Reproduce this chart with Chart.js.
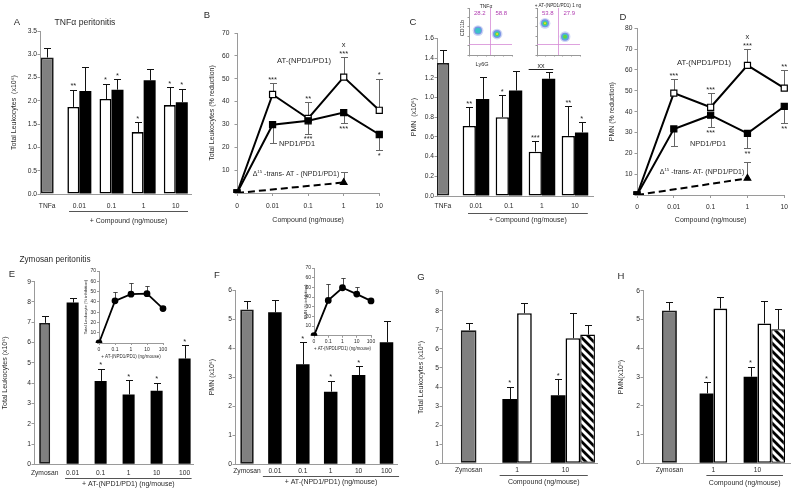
<!DOCTYPE html>
<html><head><meta charset="utf-8">
<script src="https://cdn.jsdelivr.net/npm/chart.js@4.4.1/dist/chart.umd.min.js"></script>
<style>
html,body{margin:0;padding:0;background:#fff;}
body{position:relative;width:800px;height:493px;overflow:hidden;font-family:"Liberation Sans",Arial,sans-serif;}
canvas{position:absolute;}
.lbl{position:absolute;transform:translate(-50%,-50%);white-space:nowrap;line-height:1;color:#2a2a2a;filter:grayscale(100%);}
.lbl sup{font-size:0.62em;vertical-align:0.5em;line-height:0;}
</style></head><body>
<script>
// ===================== DATA =====================
// Panel A – TNFα peritonitis, total leukocytes (x10^6)
const tnfLabels = ['TNFa', '0.01', '0.1', '1', '10'];
const yTicksA = [0, 0.5, 1, 1.5, 2, 2.5, 3, 3.5];
const leukTnf = [2.93];
const leukTnfErr = [0.21];
const leukOpenA = [1.87, 2.04, 1.33, 1.91];
const leukOpenAErr = [0.37, 0.33, 0.21, 0.38];
const leukOpenASig = ['**', '*', '*', '*'];
const leukFilledA = [2.21, 2.24, 2.44, 1.97];
const leukFilledAErr = [0.51, 0.22, 0.25, 0.29];
const leukFilledASig = ['', '*', '', '*'];

// Panel B – total leukocytes, % reduction
const redLabels = ['0', '0.01', '0.1', '1', '10'];
const yTicksB = [0, 10, 20, 30, 40, 50, 60, 70];
const leukRedAT = [0, 43.1, 32.6, 50.7, 36.2];
const leukRedATErr = [null, 4.9, 7.1, 8.7, 13.8];
const leukRedATSig = ['', '***', '**', 'x\n***', '*'];
const leukRedNPD1 = [0, 29.9, 31.6, 35.2, 25.6];
const leukRedNPD1Err = [null, 8.1, 5.6, 4.6, 6.9];
const leukRedNPD1Sig = ['', '', '***', '***', '*'];
const leukRedTrans = [0, null, null, 4.6, null];
const leukRedTransErr = [null, null, null, 4.6, null];

// Panel C – PMN (x10^6)
const yTicksC = [0, 0.2, 0.4, 0.6, 0.8, 1.0, 1.2, 1.4, 1.6];
const pmnTnf = [1.35];
const pmnTnfErr = [0.13];
const pmnOpenC = [0.71, 0.80, 0.45, 0.61];
const pmnOpenCErr = [0.19, 0.22, 0.11, 0.30];
const pmnOpenCSig = ['**', '*', '***', '**'];
const pmnFilledC = [0.985, 1.07, 1.19, 0.645];
const pmnFilledCErr = [0.22, 0.195, 0.065, 0.105];
const pmnFilledCSig = ['', '', '', '*'];
// flow cytometry insets (Ly6G, CD11b), log-decade units 0..5
const flowGate = [2.4, 1.22];
const flowCtlClusters = [[1.05, 2.6], [3.26, 2.23]];
const flowCtlDensity = [2, 4];
const flowCtlPct = ['28.2', '58.8'];
const flowTrtClusters = [[0.93, 3.37], [3.26, 1.95]];
const flowTrtDensity = [4, 3];
const flowTrtPct = ['53.8', '27.9'];

// Panel D – PMN % reduction
const yTicksD = [0, 10, 20, 30, 40, 50, 60, 70, 80];
const pmnRedAT = [0, 48.9, 42.1, 62.2, 51.3];
const pmnRedATErr = [null, 6.7, 6.8, 7.8, 8.5];
const pmnRedATSig = ['', '***', '***', 'x\n***', '**'];
const pmnRedNPD1 = [0, 31.7, 38.3, 29.6, 42.5];
const pmnRedNPD1Err = [null, 8.1, 5.8, 7.2, 8.0];
const pmnRedNPD1Sig = ['', '', '***', '**', '**'];
const pmnRedTrans = [0, null, null, 8.0, null];
const pmnRedTransErr = [null, null, null, 8.0, null];

// Panel E – Zymosan, total leukocytes (x10^6)
const zymLabels = ['Zymosan', '0.01', '0.1', '1', '10', '100'];
const yTicksE = [0, 1, 2, 3, 4, 5, 6, 7, 8, 9];
const zymLeukCtrl = [6.97];
const zymLeukCtrlErr = [0.33];
const zymLeukAT = [7.97, 4.11, 3.44, 3.62, 5.21];
const zymLeukATErr = [0.23, 0.61, 0.71, 0.41, 0.66];
const zymLeukATSig = ['', '*', '*', '*', '*'];
const insetLabels = ['0', '0.1', '1', '10', '100'];
const yTicksInset = [0, 10, 20, 30, 40, 50, 60, 70];
const zymLeukInhib = [0, 41, 47.5, 48, 33.5];
const zymLeukInhibErr = [null, 9, 10.5, 7, 2.5];

// Panel F – Zymosan, PMN (x10^6)
const yTicksF = [0, 1, 2, 3, 4, 5, 6];
const zymPmnCtrl = [5.33];
const zymPmnCtrlErr = [0.28];
const zymPmnAT = [5.23, 3.44, 2.5, 3.07, 4.2];
const zymPmnATErr = [0.42, 0.76, 0.38, 0.32, 0.74];
const zymPmnATSig = ['', '*', '*', '*', ''];
const zymPmnInhib = [0, 36.5, 49.6, 43, 36];
const zymPmnInhibErr = [null, 16.5, 10.5, 7.3, 1.8];

// Panel G – compound comparison, total leukocytes
const cmpLabels = ['Zymosan', '1', '10'];
const gLeukCtrl = [6.98];
const gLeukCtrlErr = [0.36];
const gLeukFilled = [3.37, 3.57];
const gLeukFilledErr = [0.65, 0.85];
const gLeukFilledSig = ['*', '*'];
const gLeukOpen = [7.87, 6.56];
const gLeukOpenErr = [0.56, 1.31];
const gLeukHatched = [null, 6.75];
const gLeukHatchedErr = [null, 0.51];

// Panel H – compound comparison, PMN
const hPmnCtrl = [5.31];
const hPmnCtrlErr = [0.29];
const hPmnFilled = [2.43, 3.01];
const hPmnFilledErr = [0.39, 0.35];
const hPmnFilledSig = ['*', '*'];
const hPmnOpen = [5.38, 4.86];
const hPmnOpenErr = [0.41, 0.78];
const hPmnHatched = [null, 4.66];
const hPmnHatchedErr = [null, 0.69];

// ===================== STYLE / HELPERS =====================
const F = '"Liberation Sans", Arial, sans-serif';
const TXT = '#2a2a2a', AX = '#9a9a9a';

const align = (n, start, arr) => Array.from({length: n}, (_, i) => {
  const k = i - start;
  return (k >= 0 && k < arr.length && arr[k] !== undefined) ? arr[k] : null;
});
const yv = d => (d !== null && typeof d === 'object') ? d.y : d;

function makeHatch() {
  const c = document.createElement('canvas'); c.width = 8; c.height = 8;
  const g = c.getContext('2d');
  g.fillStyle = '#fff'; g.fillRect(0, 0, 8, 8);
  g.strokeStyle = '#000'; g.lineWidth = 2.8; g.lineCap = 'square';
  g.beginPath();
  g.moveTo(-4, -4); g.lineTo(12, 12);
  g.moveTo(-4, 4); g.lineTo(4, 12);
  g.moveTo(4, -4); g.lineTo(12, 4);
  g.stroke();
  return g.createPattern(c, 'repeat');
}

const GRAY = {backgroundColor: '#808080', borderColor: '#1a1a1a', borderWidth: 1.8};
const OPEN = {backgroundColor: '#ffffff', borderColor: '#000', borderWidth: 1.6};
const FILLED = {backgroundColor: '#000', borderColor: '#000', borderWidth: 0};
const HATCH = {backgroundColor: makeHatch(), borderColor: '#000', borderWidth: 1.3};

function bar(vals, errs, sigs, style, extra) {
  return Object.assign({
    data: vals.map((v, i) => ({x: i, y: v})), err: errs, sig: sigs, errDir: 'up',
    borderSkipped: false, barPercentage: 1, capW: 3.5
  }, style, extra);
}

const LINE_BASE = {borderColor: '#000', borderWidth: 2, tension: 0, pointBorderColor: '#000',
  pointBorderWidth: 1.2, errColor: '#666', capW: 3.5};
const SQ_OPEN = Object.assign({}, LINE_BASE, {pointStyle: 'rect', pointRadius: 4.3, pointBackgroundColor: '#fff'});
const SQ_FILLED = Object.assign({}, LINE_BASE, {pointStyle: 'rect', pointRadius: 4.3, pointBackgroundColor: '#000'});
const TRANS = Object.assign({}, LINE_BASE, {borderDash: [7, 4], pointStyle: 'triangle',
  pointRadius: c => (c.dataIndex > 0 && c.raw != null) ? 3.8 : 0, pointBackgroundColor: '#000', spanGaps: true});
const DOT = {borderColor: '#000', borderWidth: 1.8, tension: 0, pointStyle: 'circle', pointRadius: 2.5,
  pointBackgroundColor: '#000', pointBorderColor: '#000', errColor: '#222', capW: 2.2, errWidth: 0.8};

function line(vals, errs, sigs, dir, style) {
  return Object.assign({data: vals, err: errs, sig: sigs, errDir: dir}, style);
}

function yAxis(ticks, fmt, title, o = {}) {
  const fs = o.fs || 6.7, tfs = o.tfs || 7;
  return {
    type: 'linear', min: ticks[0], max: ticks[ticks.length - 1],
    afterBuildTicks: s => { s.ticks = ticks.map(v => ({value: v})); },
    ticks: {font: {family: F, size: fs}, color: TXT, padding: o.pad ?? 0.5, callback: fmt},
    grid: {display: true, drawOnChartArea: false, drawTicks: true, tickLength: o.tl ?? 2.5, color: AX},
    border: {display: true, color: AX, width: 1},
    title: {display: !!title, text: title, font: {family: F, size: tfs}, color: TXT, padding: 0}
  };
}
function xBars(labels, min, max, pad, fs = 6.7) {
  return {
    type: 'linear', min, max, offset: false,
    afterBuildTicks: s => { s.ticks = labels.map((_, i) => ({value: i})); },
    ticks: {font: {family: F, size: fs}, color: TXT, padding: pad, maxRotation: 0, autoSkip: false,
      callback: v => labels[v] ?? ''},
    grid: {display: false, drawTicks: false, offset: false},
    border: {display: true, color: AX, width: 1}
  };
}
function xCat(pad, title, o = {}) {
  const fs = o.fs || 6.7, tfs = o.tfs || 7;
  return {
    type: 'category', offset: false,
    ticks: {font: {family: F, size: fs}, color: TXT, padding: pad, maxRotation: 0, autoSkip: false},
    grid: {display: true, drawOnChartArea: false, drawTicks: true, tickLength: o.tl ?? 3, color: AX, offset: false},
    border: {display: true, color: AX, width: 1},
    title: {display: true, text: title, font: {family: F, size: tfs}, color: TXT, padding: 0}
  };
}
const hideZero = v => v === 0 ? '' : v;

// ---------- plugins ----------
function drawErr(chart) {
  const ctx = chart.ctx, ys = chart.scales.y;
  chart.data.datasets.forEach((ds, di) => {
    if (!ds.err) return;
    const meta = chart.getDatasetMeta(di);
    ctx.save();
    ctx.strokeStyle = ds.errColor || '#111'; ctx.lineWidth = ds.errWidth || 1;
    ds.err.forEach((e, i) => {
      const v = yv(ds.data[i]), el = meta.data[i];
      if (e == null || v == null || !el) return;
      const x = Math.round(el.x) + 0.5;
      const y0 = ys.getPixelForValue(v);
      const y1 = Math.round(ys.getPixelForValue(ds.errDir === 'down' ? v - e : v + e)) + 0.5;
      const cw = ds.capW || 3;
      ctx.beginPath();
      ctx.moveTo(x, y0); ctx.lineTo(x, y1);
      ctx.moveTo(x - cw, y1); ctx.lineTo(x + cw, y1);
      ctx.stroke();
    });
    ctx.restore();
  });
}
function drawSigs(chart) {
  const ctx = chart.ctx, ys = chart.scales.y;
  chart.data.datasets.forEach((ds, di) => {
    if (!ds.sig) return;
    const meta = chart.getDatasetMeta(di);
    const down = ds.errDir === 'down';
    ds.sig.forEach((s, i) => {
      if (!s) return;
      const v = yv(ds.data[i]), el = meta.data[i];
      const e = ds.err && ds.err[i] != null ? ds.err[i] : 0;
      if (v == null || !el) return;
      const end = ys.getPixelForValue(down ? v - e : v + e);
      const lines = s.split('\n'), n = lines.length, fs = ds.sigFs || 7.5;
      ctx.save();
      ctx.fillStyle = TXT; ctx.font = `${fs}px ${F}`; ctx.textAlign = 'center'; ctx.textBaseline = 'alphabetic';
      lines.forEach((ln, k) => {
        const cy = down ? end + 3.5 + k * 7 : end - 5.5 - (n - 1 - k) * 7;
        ctx.fillText(ln, el.x, cy + (ln.includes('*') ? 0.56 : 0.27) * fs);
      });
      ctx.restore();
    });
  });
}
const errPlugin = {
  id: 'errbars',
  beforeDatasetsDraw(chart) { if (chart.config.type === 'line') drawErr(chart); },
  afterDatasetsDraw(chart) { if (chart.config.type !== 'line') drawErr(chart); drawSigs(chart); }
};
const decoPlugin = {
  id: 'deco',
  afterDraw(chart) {
    const o = chart.canvas.deco || {};
    const ctx = chart.ctx, xs = chart.scales.x, ys = chart.scales.y, ca = chart.chartArea;
    if (o.group) {
      const g = o.group;
      const x1 = xs.getPixelForValue(g.from + g.fromOff), x2 = xs.getPixelForValue(g.to + g.toOff);
      const ly = Math.round(ca.bottom + g.lineDy) + 0.5;
      ctx.save();
      ctx.strokeStyle = '#555'; ctx.lineWidth = 1;
      ctx.beginPath(); ctx.moveTo(x1, ly); ctx.lineTo(x2, ly); ctx.stroke();
      ctx.fillStyle = TXT; ctx.font = `${g.fs || 7}px ${F}`; ctx.textAlign = 'center'; ctx.textBaseline = 'middle';
      ctx.fillText(g.text, (x1 + x2) / 2, ca.bottom + g.textDy);
      ctx.restore();
    }
    if (o.bracket) {
      const b = o.bracket;
      const dsA = chart.data.datasets[b.ds[0]], dsB = chart.data.datasets[b.ds[1]];
      const eA = chart.getDatasetMeta(b.ds[0]).data[b.i], eB = chart.getDatasetMeta(b.ds[1]).data[b.i];
      const topA = ys.getPixelForValue(yv(dsA.data[b.i]) + dsA.err[b.i]);
      const topB = ys.getPixelForValue(yv(dsB.data[b.i]) + dsB.err[b.i]);
      const y = Math.round(Math.min(topA, topB) - b.dy) + 0.5;
      const x1 = eA.x - eA.width / 2, x2 = eB.x + eB.width / 2 - 2;
      ctx.save();
      ctx.strokeStyle = '#222'; ctx.lineWidth = 1;
      ctx.beginPath(); ctx.moveTo(x1, y); ctx.lineTo(x2, y); ctx.stroke();
      ctx.fillStyle = TXT; ctx.font = `7px ${F}`; ctx.textAlign = 'center'; ctx.textBaseline = 'alphabetic';
      ctx.fillText(b.text, (x1 + x2) / 2, y - 3.3 + 1.9);
      ctx.restore();
    }
    if (o.gate) {
      const gx = Math.round(xs.getPixelForValue(o.gate.x)) + 0.5, gy = Math.round(ys.getPixelForValue(o.gate.y)) + 0.5;
      ctx.save();
      ctx.strokeStyle = '#d58ad5'; ctx.lineWidth = 0.8;
      ctx.beginPath(); ctx.moveTo(gx, ca.top); ctx.lineTo(gx, ca.bottom);
      ctx.moveTo(ca.left, gy); ctx.lineTo(ca.right, gy); ctx.stroke();
      ctx.fillStyle = '#b03cb0'; ctx.font = `6px ${F}`; ctx.textAlign = 'center'; ctx.textBaseline = 'middle';
      ctx.fillText(o.gate.pct[0], (ca.left + gx) / 2, ca.top + 5);
      ctx.fillText(o.gate.pct[1], (gx + ca.right) / 2, ca.top + 5);
      ctx.restore();
    }
  }
};
Chart.register(errPlugin, decoPlugin);

function build(o, config, deco) {
  const left = Math.floor(o.l - o.yw), top = Math.floor(o.t - o.pt);
  const W = Math.ceil(o.r + o.pr) - left, H = Math.ceil(o.b + o.xh) - top;
  const yw = o.l - left, pt = o.t - top, pr = left + W - o.r, xh = top + H - o.b;
  const cv = document.createElement('canvas');
  cv.width = W; cv.height = H;
  cv.style.left = left + 'px'; cv.style.top = top + 'px';
  cv.style.width = W + 'px'; cv.style.height = H + 'px';
  cv.deco = deco || {};
  document.body.appendChild(cv);
  const opt = config.options;
  opt.responsive = false; opt.animation = false; opt.devicePixelRatio = 1; opt.events = [];
  opt.layout = {autoPadding: false, padding: {left: 0, top: pt, right: pr, bottom: 0}};
  opt.plugins = {legend: {display: false}, tooltip: {enabled: false}, title: {display: false}};
  opt.scales.x.afterFit = s => { s.height = xh; };
  opt.scales.y.afterFit = s => { s.width = yw; };
  return new Chart(cv, config);
}

// ===================== PANELS =====================
// A
(() => {
  const n = tnfLabels.length, cp = 0.746;
  build({l: 40, t: 31, r: 191, b: 194, yw: 29.2, pt: 8, pr: 4, xh: 36}, {
    type: 'bar',
    data: {datasets: [
      bar(align(n, 0, leukTnf), align(n, 0, leukTnfErr), null, GRAY, {categoryPercentage: cp, skipNull: true, maxBarThickness: 13}),
      bar(align(n, 1, leukOpenA), align(n, 1, leukOpenAErr), align(n, 1, leukOpenASig), OPEN, {categoryPercentage: cp, skipNull: true}),
      bar(align(n, 1, leukFilledA), align(n, 1, leukFilledAErr), align(n, 1, leukFilledASig), FILLED, {categoryPercentage: cp, skipNull: true})
    ]},
    options: {scales: {
      x: xBars(tnfLabels, -0.224, 4.473, 8.0),
      y: yAxis(yTicksA, v => v.toFixed(1), 'Total Leukocytes  (x10⁶)')
    }}
  }, {group: {from: 1, to: 4, fromOff: -0.32, toOff: 0.38, lineDy: 17, textDy: 27, text: '+ Compound (ng/mouse)'}});
})();

// B
build({l: 237, t: 30, r: 382, b: 193, yw: 28.2, pt: 6, pr: 7, xh: 30.2}, {
  type: 'line',
  data: {labels: redLabels, datasets: [
    line(leukRedNPD1, leukRedNPD1Err, leukRedNPD1Sig, 'down', SQ_FILLED),
    line(leukRedAT, leukRedATErr, leukRedATSig, 'up', SQ_OPEN),
    line(leukRedTrans, leukRedTransErr, null, 'up', TRANS)
  ]},
  options: {scales: {
    x: xCat(6.0, 'Compound (ng/mouse)'),
    y: yAxis(yTicksB, hideZero, 'Total Leukocytes (% reduction)', {pad: 5})
  }}
});

// C
(() => {
  const n = tnfLabels.length, cp = 0.806;
  build({l: 437, t: 38.3, r: 593, b: 196, yw: 26.2, pt: 6, pr: 4, xh: 30}, {
    type: 'bar',
    data: {datasets: [
      bar(align(n, 0, pmnTnf), align(n, 0, pmnTnfErr), null, GRAY, {categoryPercentage: cp, skipNull: true, maxBarThickness: 12.7}),
      bar(align(n, 1, pmnOpenC), align(n, 1, pmnOpenCErr), align(n, 1, pmnOpenCSig), OPEN, {categoryPercentage: cp, skipNull: true}),
      bar(align(n, 1, pmnFilledC), align(n, 1, pmnFilledCErr), align(n, 1, pmnFilledCSig), FILLED, {categoryPercentage: cp, skipNull: true})
    ]},
    options: {scales: {
      x: xBars(tnfLabels, -0.18, 4.547, 5.7),
      y: yAxis(yTicksC, v => v.toFixed(1), 'PMN  (x10⁶)')
    }}
  }, {
    group: {from: 1, to: 4, fromOff: -0.24, toOff: 0.39, lineDy: 17, textDy: 24, text: '+ Compound (ng/mouse)'},
    bracket: {i: 3, ds: [1, 2], text: 'xx', dy: 3}
  });
})();

// C – flow cytometry insets
const FLOW_COLORS = ['#cdd7f4', '#7a92e6', '#3cc3c8', '#66d23c', '#ece32a'];
const FLOW_R = [5.4, 4.0, 2.9, 1.9, 1.0];
function flow(box, clusters, density, pct) {
  const layers = FLOW_COLORS.map((c, k) => ({
    data: clusters.filter((_, j) => density[j] >= k).map(p => ({x: p[0], y: p[1], r: FLOW_R[k]})),
    backgroundColor: c, borderWidth: 0
  })).reverse();
  const ax = {type: 'linear', min: 0, max: 5, ticks: {display: false, stepSize: 1},
    grid: {display: true, drawOnChartArea: false, drawTicks: true, tickLength: 1.5, color: '#999'},
    border: {display: true, color: '#999', width: 1}};
  build(Object.assign({yw: 2, pt: 8, pr: 2, xh: 4}, box), {
    type: 'bubble',
    data: {datasets: layers},
    options: {scales: {x: Object.assign({}, ax), y: Object.assign({}, ax)}}
  }, {gate: {x: flowGate[0], y: flowGate[1], pct}});
}
flow({l: 469, t: 8, r: 512, b: 55}, flowCtlClusters, flowCtlDensity, flowCtlPct);
flow({l: 537, t: 8, r: 580, b: 55}, flowTrtClusters, flowTrtDensity, flowTrtPct);

// D
build({l: 637, t: 28.3, r: 785, b: 195, yw: 28.2, pt: 6, pr: 8, xh: 28.2}, {
  type: 'line',
  data: {labels: redLabels, datasets: [
    line(pmnRedNPD1, pmnRedNPD1Err, pmnRedNPD1Sig, 'down', SQ_FILLED),
    line(pmnRedAT, pmnRedATErr, pmnRedATSig, 'up', SQ_OPEN),
    line(pmnRedTrans, pmnRedTransErr, null, 'up', TRANS)
  ]},
  options: {scales: {
    x: xCat(5.0, 'Compound (ng/mouse)'),
    y: yAxis(yTicksD, hideZero, 'PMN (% reduction)', {pad: 2})
  }}
});

// E
(() => {
  const n = zymLabels.length, cp = 0.43;
  build({l: 34, t: 281.7, r: 193, b: 464.3, yw: 32.2, pt: 6, pr: 4, xh: 28}, {
    type: 'bar',
    data: {datasets: [
      bar(align(n, 0, zymLeukCtrl), align(n, 0, zymLeukCtrlErr), null, GRAY, {categoryPercentage: cp, skipNull: true, maxBarThickness: 11}),
      bar(align(n, 1, zymLeukAT), align(n, 1, zymLeukATErr), align(n, 1, zymLeukATSig), FILLED, {categoryPercentage: cp, skipNull: true})
    ]},
    options: {scales: {
      x: xBars(zymLabels, -0.38, 5.3, 4.4),
      y: yAxis(yTicksE, v => v, 'Total Leukocytes (x10⁶)')
    }}
  }, {group: {from: 1, to: 5, fromOff: -0.27, toOff: 0.25, lineDy: 13.7, textDy: 20, text: '+ AT-(NPD1/PD1) (ng/mouse)'}});
})();
// E inset
build({l: 99, t: 271, r: 163, b: 343, yw: 15.7, pt: 4, pr: 6, xh: 15.7}, {
  type: 'line',
  data: {labels: insetLabels, datasets: [line(zymLeukInhib, zymLeukInhibErr, null, 'up', DOT)]},
  options: {scales: {
    x: xCat(1.3, '+ AT-(NPD1/PD1) (ng/mouse)', {fs: 5, tfs: 4.5, tl: 2}),
    y: yAxis(yTicksInset, hideZero, 'Total Leukocyte (% inhibition)', {fs: 5, tfs: 4.2, tl: 2, pad: 1})
  }}
});

// F
(() => {
  const n = zymLabels.length, cp = 0.484;
  build({l: 235, t: 290, r: 397, b: 464.3, yw: 26.2, pt: 6, pr: 4, xh: 26}, {
    type: 'bar',
    data: {datasets: [
      bar(align(n, 0, zymPmnCtrl), align(n, 0, zymPmnCtrlErr), null, GRAY, {categoryPercentage: cp, skipNull: true, maxBarThickness: 14}),
      bar(align(n, 1, zymPmnAT), align(n, 1, zymPmnATErr), align(n, 1, zymPmnATSig), FILLED, {categoryPercentage: cp, skipNull: true})
    ]},
    options: {scales: {
      x: xBars(zymLabels, -0.43, 5.376, 2.7),
      y: yAxis(yTicksF, v => v, 'PMN (x10⁶)')
    }}
  }, {group: {from: 1, to: 5, fromOff: -0.43, toOff: 0.45, lineDy: 12, textDy: 18, text: '+ AT-(NPD1/PD1) (ng/mouse)'}});
})();
// F inset
build({l: 314, t: 268, r: 371, b: 335.7, yw: 10.7, pt: 4, pr: 6, xh: 14.7}, {
  type: 'line',
  data: {labels: insetLabels, datasets: [line(zymPmnInhib, zymPmnInhibErr, null, 'up', DOT)]},
  options: {scales: {
    x: xCat(1, '+ AT-(NPD1/PD1) (ng/mouse)', {fs: 5, tfs: 4.5, tl: 2}),
    y: yAxis(yTicksInset, hideZero, 'PMN (% inhibition)', {fs: 5, tfs: 4.2, tl: 2, pad: 1})
  }}
});

// G
(() => {
  const n = cmpLabels.length, cp = 1.215;
  build({l: 442, t: 291.7, r: 597, b: 463.3, yw: 24.5, pt: 6, pr: 3, xh: 26}, {
    type: 'bar',
    data: {datasets: [
      bar(align(n, 0, gLeukCtrl), align(n, 0, gLeukCtrlErr), null, GRAY, {categoryPercentage: cp, skipNull: true, maxBarThickness: 15.7}),
      bar(align(n, 1, gLeukFilled), align(n, 1, gLeukFilledErr), align(n, 1, gLeukFilledSig), FILLED, {categoryPercentage: cp}),
      bar(align(n, 1, gLeukOpen), align(n, 1, gLeukOpenErr), null, OPEN, {categoryPercentage: cp}),
      bar(align(n, 1, gLeukHatched), align(n, 1, gLeukHatchedErr), null, HATCH, {categoryPercentage: cp})
    ]},
    options: {scales: {
      x: xBars(cmpLabels, -0.55, 2.65, 2.7),
      y: yAxis(yTicksE, v => v, 'Total Leukocytes (x10⁶)')
    }}
  }, {group: {from: 1, to: 2, fromOff: -0.36, toOff: 0.46, lineDy: 12, textDy: 18.4, text: 'Compound (ng/mouse)'}});
})();

// H
(() => {
  const n = cmpLabels.length, cp = 1.255;
  build({l: 643, t: 290.7, r: 790, b: 463.3, yw: 25.5, pt: 6, pr: 6, xh: 27}, {
    type: 'bar',
    data: {datasets: [
      bar(align(n, 0, hPmnCtrl), align(n, 0, hPmnCtrlErr), null, GRAY, {categoryPercentage: cp, skipNull: true, maxBarThickness: 15}),
      bar(align(n, 1, hPmnFilled), align(n, 1, hPmnFilledErr), align(n, 1, hPmnFilledSig), FILLED, {categoryPercentage: cp}),
      bar(align(n, 1, hPmnOpen), align(n, 1, hPmnOpenErr), null, OPEN, {categoryPercentage: cp}),
      bar(align(n, 1, hPmnHatched), align(n, 1, hPmnHatchedErr), null, HATCH, {categoryPercentage: cp})
    ]},
    options: {scales: {
      x: xBars(cmpLabels, -0.6, 2.74, 2.7),
      y: yAxis(yTicksF, v => v, 'PMN(x10⁶)')
    }}
  }, {group: {from: 1, to: 2, fromOff: -0.16, toOff: 0.58, lineDy: 12, textDy: 19.4, text: 'Compound (ng/mouse)'}});
})();

// ===================== FREE TEXT =====================
function label(html, x, y, fs, extra) {
  const d = document.createElement('div');
  d.className = 'lbl'; d.innerHTML = html;
  d.style.left = x + 'px'; d.style.top = y + 'px'; d.style.fontSize = fs + 'px';
  if (extra) d.style.cssText += extra;
  document.body.appendChild(d);
}
label('A', 17, 22, 9.5);
label('TNFα peritonitis', 85, 22, 8.6);
label('B', 207, 15, 9.5);
label('C', 413, 22, 9.5);
label('D', 623, 17, 9.5);
label('Zymosan peritonitis', 55, 260, 8.2);
label('E', 12, 274, 9.5);
label('F', 217, 275, 9.5);
label('G', 421, 277, 9.5);
label('H', 621, 276, 9.5);
label('AT-(NPD1/PD1)', 304, 61, 7.7);
label('NPD1/PD1', 297, 144, 7.4);
label('Δ<sup>15</sup> -trans- AT - (NPD1/PD1)', 296, 173, 7);
label('AT-(NPD1/PD1)', 704, 63, 7.7);
label('NPD1/PD1', 708, 144, 7.4);
label('Δ<sup>15</sup> -trans- AT- (NPD1/PD1)', 702, 171, 7);
label('TNFα', 486, 5.5, 5);
label('+ AT-(NPD1/PD1) 1 ng', 558, 6, 4.6);
label('Ly6G', 482, 65, 5.5);
label('CD11b', 463, 28, 5.5, 'transform:translate(-50%,-50%) rotate(-90deg);');
</script>
</body></html>
